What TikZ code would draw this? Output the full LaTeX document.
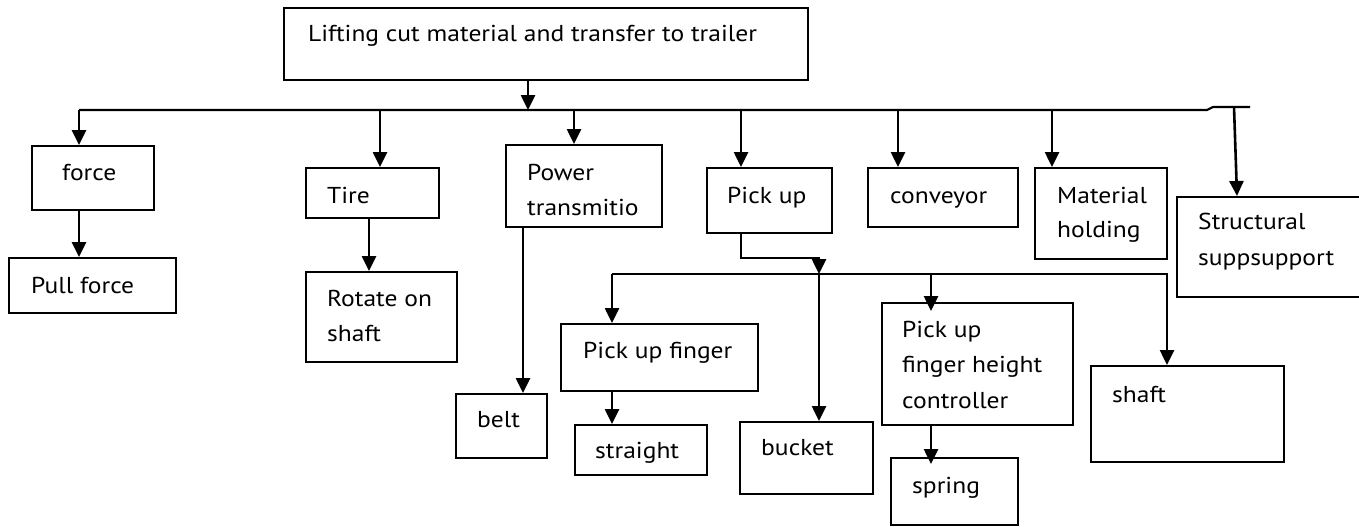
\documentclass[tikz,border=0pt]{standalone}
\usepackage{fontspec}
\setmainfont{PT Sans}[FakeStretch=1.11]
\usetikzlibrary{arrows.meta,fit}
\begin{document}
\begin{tikzpicture}[x=1pt,y=-1pt,
  box/.style={draw,line width=2pt,inner sep=0pt},
  txt/.style={inner sep=0pt,anchor=base west,font=\fontsize{23}{35}\selectfont},
  arr/.style={line width=2.6pt,-{Triangle[width=14pt,length=15pt]}},
  ln/.style={line width=2.2pt}]
\useasboundingbox (0,0) rectangle (1359,527);

% boxes
\node[box,fit={(284,8)(808,80)}] (top) {};
\node[box,fit={(32,146)(154,210)}] (force) {};
\node[box,fit={(9,258)(176,313)}] (pull) {};
\node[box,fit={(306,168)(439,218)}] (tire) {};
\node[box,fit={(306,272)(457,362)}] (rotate) {};
\node[box,fit={(506,145)(662,227)}] (power) {};
\node[box,fit={(456,394)(547,458)}] (belt) {};
\node[box,fit={(707,168)(832,233)}] (pickup) {};
\node[box,fit={(868,168)(1018,227)}] (conveyor) {};
\node[box,fit={(1035,168)(1167,259)}] (material) {};
\node[box,fit={(1177,197)(1372,297)}] (struct) {};
\node[box,fit={(561,324)(758,391)}] (pfinger) {};
\node[box,fit={(575,425)(707,475)}] (straight) {};
\node[box,fit={(740,422)(873,494)}] (bucket) {};
\node[box,fit={(882,303)(1073,425)}] (pfhc) {};
\node[box,fit={(891,458)(1018,525)}] (spring) {};
\node[box,fit={(1091,366)(1284,462)}] (shaft) {};

% texts
\node[txt] (t-top) at (308,42) {Lifting cut material and transfer to trailer};
\node[txt] (t-force) at (62,180) {force};
\node[txt] (t-pull) at (31,293) {Pull force};
\node[txt] (t-tire) at (327,203) {Tire};
\node[txt] (t-rot1) at (327,306) {Rotate on};
\node[txt] (t-rot2) at (327,341) {shaft};
\node[txt] (t-pow1) at (527,180) {Power};
\node[txt] (t-pow2) at (527,215) {transmitio};
\node[txt] (t-belt) at (477,427) {belt};
\node[txt] (t-pick) at (727,203) {Pick up};
\node[txt] (t-conv) at (890,203) {conveyor};
\node[txt] (t-mat1) at (1057,203) {Material};
\node[txt] (t-mat2) at (1057,237) {holding};
\node[txt] (t-str1) at (1198,229) {Structural};
\node[txt] (t-str2) at (1198,265) {suppsupport};
\node[txt] (t-pf) at (583,358) {Pick up finger};
\node[txt] (t-straight) at (595,458) {straight};
\node[txt] (t-bucket) at (761,455) {bucket};
\node[txt] (t-h1) at (902,337) {Pick up};
\node[txt] (t-h2) at (902,372) {finger height};
\node[txt] (t-h3) at (902,408) {controller};
\node[txt] (t-spring) at (912,493) {spring};
\node[txt] (t-shaft) at (1112,402) {shaft};

% main bus
\coordinate (bL) at (79,110);
\coordinate (bM) at (528,110);
\coordinate (bJ) at (1207,110);
\coordinate (bK) at (1213,107);
\coordinate (bR) at (1250,107);
\coordinate (bT) at (380,110);
\coordinate (bP) at (574,110);
\coordinate (bU) at (741,110);
\coordinate (bC) at (898,110);
\coordinate (bH) at (1052,110);
\coordinate (bS) at (1234,107);
\coordinate (sS) at (1237,197);
\draw[ln] (bL) -- (bJ) -- (bK) -- (bR);
\draw[arr] (top.south -| bM) -- (bM);
\draw[arr] (bL) -- (bL |- force.north);
\draw[arr] (bT) -- (bT |- tire.north);
\draw[arr] (bP) -- (bP |- power.north);
\draw[arr] (bU) -- (bU |- pickup.north);
\draw[arr] (bC) -- (bC |- conveyor.north);
\draw[arr] (bH) -- (bH |- material.north);
\draw[arr] (bS) -- (struct.north -| sS);

% second level
\coordinate (tr) at (369,0);
\coordinate (pw) at (523,0);
\draw[arr] (force.south -| bL) -- (bL |- pull.north);
\draw[arr] (tire.south -| tr) -- (tr |- rotate.north);
\draw[arr] (power.south -| pw) -- (pw |- belt.north);

% pick up sub-bus
\coordinate (sL) at (612,274);
\coordinate (sR) at (1168,274);
\coordinate (sB) at (819,274);
\coordinate (sH) at (931,274);
\coordinate (sT) at (1167,274);
\coordinate (pk) at (741,258);
\draw[ln] (sL) -- (sR);
\draw[arr] (pickup.south -| pk) -- (pk) -- (pk -| sB) -- (sB);
\draw[arr] (sB) -- (sB |- bucket.north);
\draw[arr] (sL) -- (sL |- pfinger.north);
\draw[arr,shorten >=-9pt] (sH) -- (sH |- pfhc.north);
\draw[arr] (sT) -- (sT |- shaft.north);
\draw[arr] (pfinger.south -| sL) -- (sL |- straight.north);
\draw[arr,shorten >=-7pt] (pfhc.south -| sH) -- (sH |- spring.north);
\end{tikzpicture}
\end{document}
